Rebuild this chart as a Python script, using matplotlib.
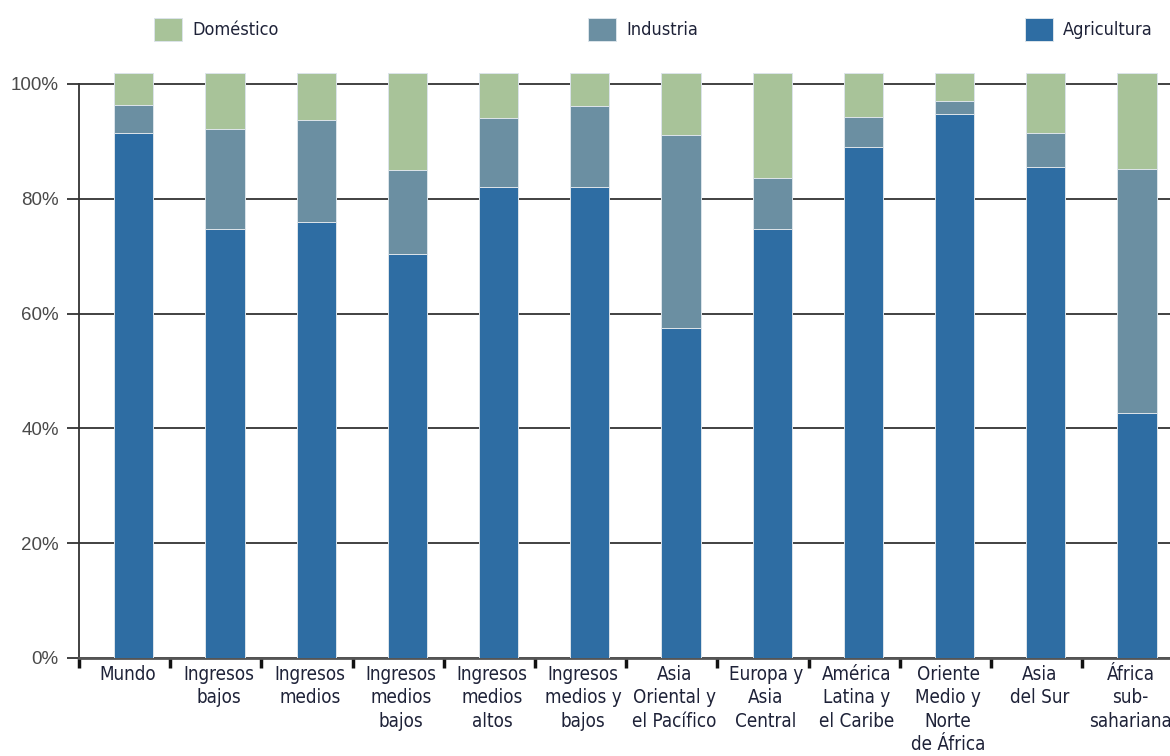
import matplotlib
matplotlib.use("Agg")
import matplotlib.pyplot as plt
from matplotlib import font_manager
import numpy as np
import os

# ---------------- data (percent of water withdrawals) ----------------
categorias = ["Mundo", "Ingresos\nbajos", "Ingresos\nmedios", "Ingresos\nmedios\nbajos",
              "Ingresos\nmedios\naltos", "Ingresos\nmedios y\nbajos", "Asia\nOriental y\nel Pacífico",
              "Europa y\nAsia\nCentral", "América\nLatina y\nel Caribe", "Oriente\nMedio y\nNorte\nde África",
              "Asia\ndel Sur", "África\nsub-\nsahariana"]
agricultura = [91.5, 74.7, 75.9, 70.3, 82.1, 82.1, 57.5, 74.7, 89.0, 94.7, 85.6, 42.6]
industria = [4.9, 17.4, 17.8, 14.7, 11.9, 14.1, 33.7, 9.0, 5.3, 2.4, 5.9, 42.6]
domestico = [5.5, 9.8, 8.2, 16.9, 7.9, 5.7, 10.7, 18.2, 7.6, 4.8, 10.4, 16.7]
yticks = [0, 20, 40, 60, 80, 100]
yticklabels = ["0%", "20%", "40%", "60%", "80%", "100%"]

c_agri = "#2e6da3"
c_ind = "#6b8fa2"
c_dom = "#a8c399"
txt = "#1e2238"

# look for a narrow / condensed face, the original uses a condensed sans
cond_file = None
for key in ["LiberationSansNarrow-Regular", "DejaVuSansCondensed.ttf", "RobotoCondensed-Regular",
            "OpenSans_Condensed-Regular", "OpenSansCondensed"]:
    for f in font_manager.fontManager.ttflist:
        if key in os.path.basename(f.fname):
            cond_file = f.fname
            break
    if cond_file:
        break

def cfont(size):
    if cond_file:
        return font_manager.FontProperties(fname=cond_file, size=size)
    return font_manager.FontProperties(family="Liberation Sans", size=size * 0.92)

# ---------------- figure ----------------
W, H = 1170, 756
fig = plt.figure(figsize=(W / 100, H / 100), dpi=100)
px_per = 5.74          # pixels per percent
step = 91.2            # pixels per category
ax = fig.add_axes([79 / W, (H - 658) / H, 1 - 79 / W, 104 * px_per / H])
ax.set_xlim(0, (W - 79) / step)
ax.set_ylim(0, 104)

n = len(categorias)
x = np.arange(n) + 0.6
agri = np.array(agricultura)
ind = np.array(industria)
dom = np.array(domestico)
ekw = dict(width=0.43, edgecolor="#dce4ea", linewidth=0.7, zorder=3)
b1 = ax.bar(x, agri, color=c_agri, **ekw)
b2 = ax.bar(x, ind, bottom=agri, color=c_ind, **ekw)
b3 = ax.bar(x, dom, bottom=agri + ind, color=c_dom, **ekw)

# grid / axes
ax.set_yticks(yticks)
ax.set_yticklabels(yticklabels, fontname="Liberation Sans", fontsize=13.5, color="#4a4a4a")
ax.yaxis.grid(True, color="#333333", linewidth=1.3, zorder=0)
ax.set_axisbelow(True)
ax.tick_params(axis="y", length=8.6, width=1.3, color="#333333", pad=6)

for s in ["top", "right"]:
    ax.spines[s].set_visible(False)
ax.spines["left"].set_bounds(0, 100)
ax.spines["left"].set_linewidth(1.3)
ax.spines["left"].set_color("#333333")
ax.spines["bottom"].set_linewidth(2)
ax.spines["bottom"].set_color("#555555")

ax.set_xticks(np.arange(n))
ax.set_xticklabels([])
ax.tick_params(axis="x", which="major", length=7.2, width=2.5, color="#111111")
ax.set_xticks(np.arange(n) + 0.53, minor=True)
ax.set_xticklabels(categorias, minor=True, fontproperties=cfont(13.5), color=txt,
                   linespacing=1.3)
ax.tick_params(axis="x", which="minor", length=0, pad=5)

# legend: three separate entries across the top
items = [(b3, "Doméstico", 154), (b2, "Industria", 588), (b1, "Agricultura", 1025)]
for handle, label, xpos in items:
    lg = fig.legend([handle], [label], loc="center left",
                    bbox_to_anchor=(xpos / W, 1 - 29.5 / H), frameon=False,
                    borderpad=0, borderaxespad=0, handlelength=1.55, handleheight=1.5,
                    handletextpad=0.55, prop=cfont(13))
    for t in lg.get_texts():
        t.set_color(txt)

fig.savefig("out.png", dpi=100)
